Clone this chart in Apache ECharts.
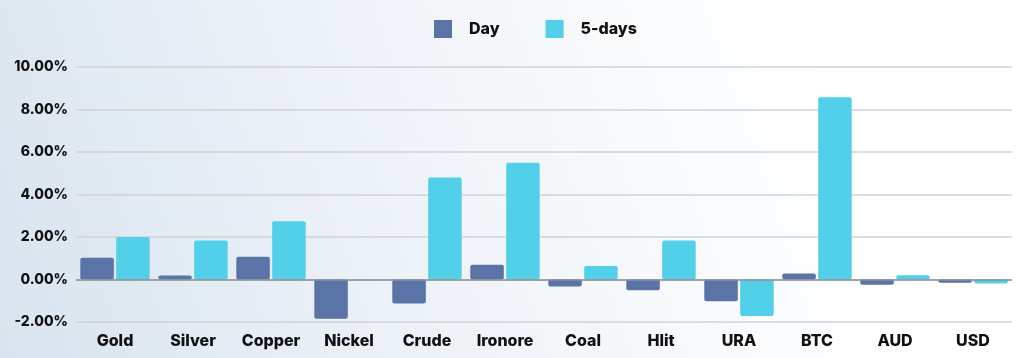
<!DOCTYPE html>
<html>
<head>
<meta charset="utf-8">
<script src="https://cdn.jsdelivr.net/npm/echarts@6/dist/echarts.min.js"></script>
<style>
html,body{margin:0;padding:0;width:1024px;height:358px;overflow:hidden;background:#fff;}
#chart{width:1024px;height:358px;}
</style>
</head>
<body>
<div id="chart"></div>
<script>
const categories = ['Gold','Silver','Copper','Nickel','Crude','Ironore','Coal','Hlit','URA','BTC','AUD','USD'];
const dayValues = [1.02, 0.19, 1.07, -1.85, -1.13, 0.70, -0.33, -0.50, -1.02, 0.28, -0.25, -0.15];
const fiveDayValues = [2.00, 1.83, 2.74, 0, 4.80, 5.50, 0.64, 1.83, -1.72, 8.58, 0.20, -0.19];
const seriesNames = ['Day','5-days'];
const yTicks = {min: -2, max: 10, interval: 2};

const font = 'Inter, "Noto Sans", sans-serif';
const chart = echarts.init(document.getElementById('chart'));
chart.setOption({
  backgroundColor: {
    type: 'linear', x: 0, y: 1, x2: 1, y2: 0,
    colorStops: [
      {offset: 0, color: '#d9e4ef'},
      {offset: 0.45, color: '#f1f5f9'},
      {offset: 0.8, color: '#ffffff'},
      {offset: 1, color: '#ffffff'}
    ]
  },
  animation: false,
  legend: {
    top: 15,
    left: 429,
    itemWidth: 18,
    itemHeight: 18,
    itemGap: 46,
    icon: 'rect',
    textStyle: {fontFamily: font, fontWeight: 800, fontSize: 16, color: '#111', padding: [0, 0, 0, 12]},
    data: seriesNames
  },
  grid: {left: 76, right: 12, top: 67, bottom: 36, containLabel: false},
  xAxis: {
    type: 'category',
    data: categories,
    axisTick: {show: false},
    axisLine: {show: false},
    axisLabel: {fontFamily: font, fontWeight: 800, fontSize: 16, color: '#111', margin: 11}
  },
  yAxis: {
    type: 'value',
    min: yTicks.min, max: yTicks.max, interval: yTicks.interval,
    axisLine: {show: false},
    axisTick: {show: false},
    splitLine: {lineStyle: {color: '#cfd3d8', width: 1.5}},
    axisLabel: {
      fontFamily: font, fontWeight: 800, fontSize: 14, color: '#111', margin: 8,
      formatter: v => v.toFixed(2) + '%'
    }
  },
  series: [
    {
      name: seriesNames[0], type: 'bar', data: dayValues,
      barGap: '7%', barCategoryGap: '11%',
      itemStyle: {color: '#5a74a8', borderRadius: 2},
      markLine: {
        silent: true, symbol: 'none', label: {show: false},
        lineStyle: {color: '#8a8f96', width: 1.5, type: 'solid'},
        data: [{yAxis: 0}]
      },
      z: 3
    },
    {
      name: seriesNames[1], type: 'bar', data: fiveDayValues,
      itemStyle: {color: '#52d0ea', borderRadius: 2},
      z: 3
    }
  ]
});
</script>
</body>
</html>
